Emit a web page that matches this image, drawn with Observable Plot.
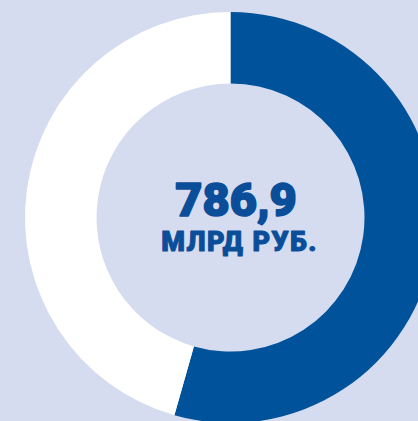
<!DOCTYPE html>
<html>
<head>
<meta charset="utf-8">
<script src="https://cdn.jsdelivr.net/npm/d3@7"></script>
<script src="https://cdn.jsdelivr.net/npm/@observablehq/plot@0.6"></script>
<style>
  html, body { margin: 0; padding: 0; background: #d6dcf0; }
  #chart { width: 418px; height: 421px; overflow: hidden; }
  .unit-label text { letter-spacing: 1.4px; }
</style>
</head>
<body>
<div id="chart"></div>
<script>
// Data
const segments = ["Синий сегмент", "Белый сегмент"];
const shares = [54.4, 45.6];
const segmentColors = ["#00529b", "#ffffff"];
const totalLabel = "786,9";
const unitLabel = "МЛРД РУБ.";

const outerR = 1;
const innerR = 0.652;

const data = segments.map((s, i) => ({segment: s, value: shares[i], color: segmentColors[i]}));

function donut(index, scales, values, dimensions, context) {
  const cx = scales.x(0), cy = scales.y(0);
  const ro = scales.x(outerR) - scales.x(0);
  const ri = scales.x(innerR) - scales.x(0);
  const pie = d3.pie().sort(null).value(d => d.value)(data);
  const arc = d3.arc().innerRadius(ri).outerRadius(ro);
  const g = d3.create("svg:g").attr("transform", `translate(${cx},${cy})`);
  g.selectAll("path").data(pie).join("path")
    .attr("d", arc)
    .attr("fill", d => d.data.color);
  return g.node();
}

const W = 418, H = 421, unit = 205.5, cx = 230.5, cy = 217.5;

const chart = Plot.plot({
  width: W,
  height: H,
  margin: 0,
  style: {background: "#d6dcf0", overflow: "hidden"},
  x: {domain: [-cx / unit, (W - cx) / unit], axis: null},
  y: {domain: [-(H - cy) / unit, cy / unit], axis: null},
  marks: [
    donut,
    Plot.text([totalLabel], {
      x: () => 0, y: () => 0, text: d => d,
      dx: 5, dy: -17,
      fontFamily: "Roboto", fontWeight: 900, fontSize: 47,
      fill: "#0a4e9a", stroke: "#0a4e9a", strokeWidth: 1.6
    }),
    Plot.text([unitLabel], {
      x: () => 0, y: () => 0, text: d => d,
      dx: 8.5, dy: 24,
      fontFamily: "Roboto", fontWeight: 900, fontSize: 27,
      fill: "#0a4e9a", stroke: "#0a4e9a", strokeWidth: 1,
      className: "unit-label"
    })
  ]
});
d3.select(chart).selectAll("g.unit-label text, .unit-label text").style("letter-spacing", "1.4px");
document.getElementById("chart").append(chart);
</script>
</body>
</html>
